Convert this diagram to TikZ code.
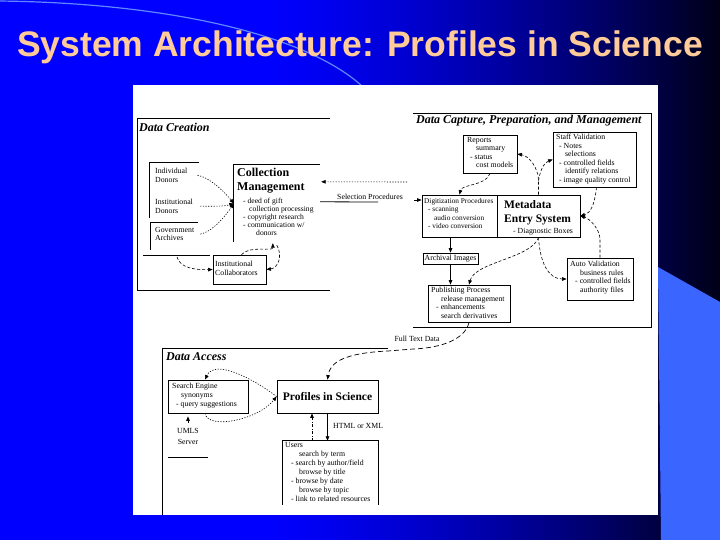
\documentclass[tikz,border=0pt]{standalone}
\usepackage{fontspec}
\setmainfont{Liberation Serif}
\newfontfamily\titlefnt{Liberation Sans}
\usetikzlibrary{arrows.meta,fit,calc}
\definecolor{bgblue}{RGB}{0,0,255}
\definecolor{bgdark}{RGB}{0,0,24}
\definecolor{accentblue}{RGB}{58,102,255}
\definecolor{arcblue}{RGB}{95,135,255}
\definecolor{titlepeach}{RGB}{255,204,153}
\newcommand\smallfnt{\fontsize{7.8}{8.5}\selectfont}
\newcommand\boldfnt{\fontsize{12}{14}\selectfont\bfseries}
\newcommand\sectfnt{\fontsize{12}{14}\selectfont\bfseries\itshape}
\tikzset{
  >={Triangle[length=4.5pt,width=3.6pt]},
  frameline/.style={line width=1pt},
  boxst/.style={draw, line width=0.8pt, inner sep=0pt},
  areast/.style={inner sep=0pt},
  txt/.style={font=\smallfnt, align=left, inner sep=0pt, anchor=north west},
  sect/.style={font=\sectfnt, inner sep=0pt, anchor=west},
  bigtxt/.style={font=\boldfnt, align=left, inner sep=0pt, anchor=north west},
  dotc/.style={->, line width=0.6pt, dash pattern=on 1.2pt off 1.5pt},
  dashc/.style={->, line width=0.6pt, dash pattern=on 3pt off 2pt},
  longdash/.style={->, line width=0.7pt, dash pattern=on 5pt off 3pt},
  dashdotc/.style={->, line width=0.7pt, dash pattern=on 3pt off 1.5pt on 0.8pt off 1.5pt},
  solidc/.style={->, line width=0.8pt}
}
\begin{document}
\begin{tikzpicture}[x=1pt,y=-1pt]
\useasboundingbox (0,0) rectangle (720,540);
% background gradient
\foreach \i in {0,...,89}{
  \pgfmathsetmacro\xa{\i*8}
  \pgfmathsetmacro\p{(max(0,(\xa+4-260)/460))^1.4*100}
  \fill[bgdark!\p!bgblue] (\xa,0) rectangle (\xa+8.3,540);
}
\fill[accentblue] (658,267) -- (720,302) -- (720,540) -- (661,540) -- cycle;
\draw[arcblue, line width=1.2pt] (-5,1) .. controls (150,2) and (300,30) .. (362,86);
\node[font=\titlefnt\fontsize{35.5}{40}\selectfont\bfseries, text=titlepeach, anchor=base, inner sep=0pt] (title) at (360,57) {System Architecture: Profiles in Science};
% white picture area
\fill[white] (133,85) rectangle (658,515);

% ---------------- Data Creation ----------------
\draw[frameline] (330,119) -- (137,119) -- (137,290) -- (330,290);
\node[sect] (tdc) at (139,127) {Data Creation};

\node[areast, fit={(150,163)(199,218)}] (indbox) {};
\draw[line width=0.8pt] (indbox.north east) -- (indbox.north west) -- (indbox.south west);
\node[areast, fit={(151,223)(198,250)}] (govbox) {};
\draw[line width=0.8pt] (govbox.north east) -- (govbox.north west) -- (govbox.south west);
\draw[line width=0.8pt] (143,255) -- (210,255);
\coordinate (hl) at (177,257);

\node[txt] (ind) at (155,168) {Individual\\Donors};
\node[txt] (inst) at (155,199) {Institutional\\Donors};
\node[txt] (gov) at (155,227) {Government\\Archives};

\node[areast, fit={(234,165)(320,242)}] (cm) {};
\draw[line width=0.8pt] (cm.south west) -- (cm.north west) -- (cm.north east);
\node[bigtxt] (cmt) at (237,168) {Collection\\Management};
\node[txt, font=\fontsize{7.6}{8}\selectfont] (cmb) at (243,198) {- deed of gift\\\hspace*{6pt}collection processing\\- copyright research\\- communication w/\\\hspace*{13pt}donors};

\node[boxst, fit={(213,255)(266,284)}] (ic) {};
\node[txt] (ict) at (215,261) {Institutional\\Collaborators};

\node[txt, anchor=west] (selt) at (337,197) {Selection Procedures};
\coordinate (selsrc) at (407,182);
\coordinate (selend) at (378,202);
\coordinate (digin) at (414,200);

\draw[dotc] ([xshift=10pt]ind.east) .. controls +(14,3) and +(-8,-10) .. (cm.west);
\draw[dotc] ([xshift=7pt]inst.east) .. controls +(15,0) and +(-10,3) .. (cm.west);
\draw[dotc] ([xshift=6pt]gov.east) .. controls +(12,-2) and +(-8,12) .. (cm.west);
\draw[dashc] (hl) .. controls (180,268) and (195,270) .. (ic.west);
\draw[dashc] ([xshift=2pt]ic.north) .. controls (250,245) and (273,252) .. ($(cm.south west)+(39,1)$);
\draw[dashc] ($(cm.south west)+(43,3)$) .. controls (283,256) and (278,268) .. (ic.east);
\draw[dotc] (selsrc) -- ($(cm.north east)+(1,17)$);
\draw[line width=0.8pt] ($(cm.north east)+(0,37)$) -- (selend);

% ---------------- Data Capture ----------------
\draw[frameline] (413,114) -- (651,114) -- (651,327) -- (413,327);
\node[sect] (tcap) at (416,121) {Data Capture, Preparation, and Management};

\node[boxst, fit={(463,135)(517,173)}] (rep) {};
\node[txt] (rept) at (467,137) {Reports\\\hspace*{9pt}summary\\\hspace*{3pt}- status\\\hspace*{9pt}cost models};

\node[boxst, fit={(553,132)(636,187)}] (staff) {};
\node[txt] (stafft) at (556,134) {Staff Validation\\\hspace*{3pt}- Notes\\\hspace*{9pt}selections\\\hspace*{3pt}- controlled fields\\\hspace*{9pt}identify relations\\\hspace*{3pt}- image quality control};

\node[boxst, fit={(422,195)(497,237)}] (dig) {};
\node[txt, font=\fontsize{7.3}{8.5}\selectfont] (digt) at (424,198) {Digitization Procedures\\\hspace*{4pt}- scanning\\\hspace*{10pt}audio conversion\\\hspace*{4pt}- video conversion};

\node[boxst, fit={(497,195)(580,237)}] (meta) {};
\node[bigtxt, font=\fontsize{11.5}{14}\selectfont\bfseries] (metat) at (504,200) {Metadata\\Entry System};
\node[txt] (metab) at (513,228) {- Diagnostic Boxes};

\node[boxst, fit={(423,253)(478,264)}] (arch) {};
\node[txt, anchor=center] (archt) at (arch.center) {Archival Images};

\node[boxst, fit={(428,285)(510,322)}] (pub) {};
\node[txt] (pubt) at (431,287) {Publishing Process\\\hspace*{10pt}release management\\\hspace*{5pt}- enhancements\\\hspace*{10pt}search derivatives};

\node[boxst, fit={(567,258)(633,300)}] (auto) {};
\node[txt] (autot) at (570,261) {Auto Validation\\\hspace*{10pt}business rules\\\hspace*{5pt}- controlled fields\\\hspace*{10pt}authority files};

\draw[solidc] (digin) -- (dig.west |- digin);
\draw[dashc] (rep.south) .. controls (486,186) and (462,184) .. (dig.north);
\draw[dashc] (meta.north) -- ++(0,-14) coordinate (mup) .. controls +(0,-12) and +(12,2) .. (rep.east);
\draw[dashc] (mup) .. controls +(2,-12) and +(-8,3) .. (staff.west);
\draw[dashc] ([xshift=2pt]staff.south) .. controls +(-2,18) and +(10,-3) .. (meta.east);
\draw[dashc] (auto.north) -- ++(0,-18) .. controls +(0,-10) and +(10,3) .. (meta.east);
\draw[solidc] (arch.north |- dig.south) -- (arch.north);
\draw[solidc] (arch.south) -- (arch.south |- pub.north);
\draw[dashc] (meta.south) .. controls (532,258) and (475,262) .. (pub.north);
\draw[dashc] (meta.south) .. controls (540,262) and (548,279) .. (auto.west);

% ---------------- Data Access ----------------
\draw[frameline] (388,348) -- (162,348) -- (162,515);
\node[sect] (tacc) at (166,357) {Data Access};

\node[boxst, fit={(168,380)(248,413)}] (search) {};
\node[txt, font=\fontsize{7.8}{9}\selectfont] (searcht) at (172,383) {Search Engine\\\hspace*{9pt}synonyms\\\hspace*{4pt}- query suggestions};

\node[boxst, fit={(277,380)(378,413)}] (prof) {};
\node[font=\fontsize{11.5}{14}\selectfont\bfseries, inner sep=0pt] (proft) at (prof.center) {Profiles in Science};

\node[txt, align=center, anchor=center, font=\fontsize{7.8}{11}\selectfont] (umls) at (188,436) {UMLS\\Server};
\draw[line width=0.8pt] (168,457) -- (208,457);

\node[areast, fit={(283,441)(378,505)}] (users) {};
\draw[line width=0.8pt] (users.south west) -- (users.north west) -- (users.north east) -- (users.south east);
\node[txt, font=\fontsize{7.8}{9}\selectfont] (userst) at (285,442) {Users\\\hspace*{14pt}search by term\\\hspace*{6pt}- search by author/field\\\hspace*{14pt}browse by title\\\hspace*{6pt}- browse by date\\\hspace*{14pt}browse by topic\\\hspace*{6pt}- link to related resources};

\node[txt, anchor=west] (html) at (333,426) {HTML or XML};
\node[txt, anchor=center] (ftd) at (417,339) {Full Text Data};

\draw[longdash] (pub.south) .. controls (465,340) and (440,348) .. (413,349) -- (388,351) .. controls (345,353) and (330,362) .. (prof.north);
\draw[solidc, shorten <=5pt, shorten >=3pt] (umls.north) -- (umls.north |- search.south);
\draw[dotc] (prof.west) .. controls (255,380) and (215,358) .. ([xshift=-3pt]search.north);
\draw[dotc] ([xshift=-3pt]search.south) .. controls (208,430) and (258,420) .. (prof.west);
\draw[solidc] (prof.south) -- (prof.south |- users.north);
\draw[dashdotc] ([xshift=-18.5pt]users.north) -- ([xshift=-15.5pt]prof.south);
\end{tikzpicture}
\end{document}
